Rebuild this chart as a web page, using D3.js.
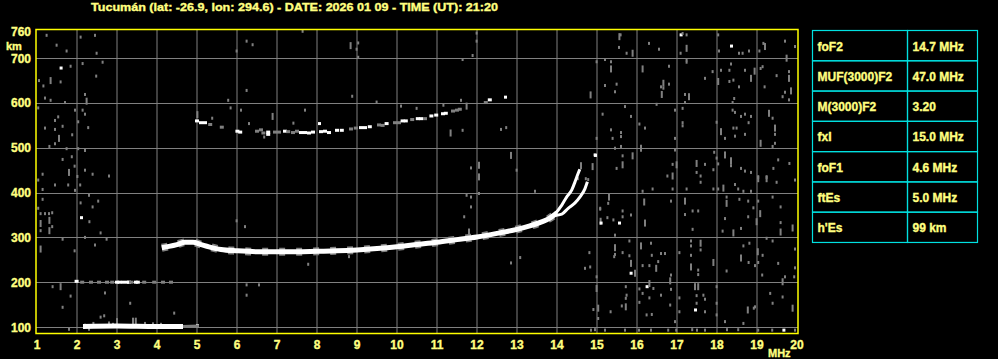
<!DOCTYPE html>
<meta charset="utf-8">
<script src="https://d3js.org/d3.v7.min.js"></script>
<style>
  body { margin: 0; background: #000; }
  text { font-family: "Liberation Sans", Arial, sans-serif; font-weight: bold; fill: #ffff80; stroke: #ffff80; stroke-width: 0.35px; }
</style>
<div id="my_dataviz"></div>
<script>
var width = 998
var height = 359

var title = "Tucumán (lat: -26.9, lon: 294.6) - DATE: 2026 01 09 - TIME (UT): 21:20"
var freqTicks = d3.range(1, 21)
var heightTicks = [100, 200, 300, 400, 500, 600, 700, 760]
var gridHeights = [100, 200, 300, 400, 500, 600, 700]
var paramNames = ["foF2", "MUF(3000)F2", "M(3000)F2", "fxI", "foF1", "ftEs", "h'Es"]
var paramValues = ["14.7 MHz", "47.0 MHz", "3.20", "15.0 MHz", "4.6 MHz", "5.0 MHz", "99 km"]

// F trace (o and x together) [MHz, km]
var traceF = [[4.12,277],[4.3,280],[4.5,284],[4.7,289],[4.9,289],[5.1,284],[5.3,279],[5.6,273],[6.0,270],
  [6.5,268],[7.0,268],[7.5,268],[8.0,269],[8.5,270],[9.0,272],[9.5,275],[10.0,279],[10.5,284],[11.0,289],
  [11.5,295],[12.0,301],[12.5,309],[13.0,318],[13.3,325],[13.6,334],[13.8,342],[14.0,355]]
var traceO = [[13.95,352],[14.12,372],[14.24,390],[14.37,406],[14.45,424],[14.53,443],[14.57,452]]
var traceX = [[13.95,349],[14.12,352],[14.28,365],[14.45,377],[14.58,391],[14.7,409],[14.76,424]]
// sporadic E
var traceEs = [[2.15,101],[3.0,102],[4.0,101],[4.65,101]]
var traceEsTail = [[4.65,101],[5.05,102]]
// second hop echoes [MHz, km, bright]
var hopEs = [[1.99,202,1],[2.13,200,0],[2.35,200,0],[2.55,200,0],[2.75,200,0],[2.88,200,0],[3.0,200,1],
  [3.06,200,1],[3.15,200,1],[3.25,200,1],[3.3,200,1],[3.35,200,0],[3.47,200,1],[3.52,200,1],[3.68,200,0],
  [3.93,200,0],[4.15,200,0],[4.35,200,0]]
var hopF = [[5.0,560,1],[5.1,556,1],[5.2,556,1],[5.33,552,0],[5.62,546,0],[6.01,537,1],[6.08,535,1],[6.5,537,0],
  [6.6,540,0],[6.66,533,0],[6.78,535,1],[6.78,530,1],[6.95,535,0],[7.05,535,0],[7.2,537,1],[7.28,536,0],
  [7.4,534,0],[7.5,537,0],[7.6,534,1],[7.7,534,1],[7.8,533,1],[7.9,535,1],[8.1,536,1],[8.2,537,1],[8.3,534,1],
  [8.5,539,1],[8.62,539,1],[8.85,542,0],[8.97,544,0],[9.1,545,1],[9.2,545,1],[9.32,547,1],[9.55,551,0],
  [9.64,550,0],[9.74,554,1],[9.95,556,0],[10.05,556,0],[10.14,560,1],[10.22,560,1],[10.38,563,0],[10.52,565,1],
  [10.6,565,1],[10.7,565,0],[10.86,571,1],[10.98,573,1],[11.15,576,1],[11.22,577,1],[11.4,582,0],[11.5,584,0],
  [11.57,586,0],[12.22,601,0],[12.32,607,1]]
// scattered noise [MHz, km, kind] 0 dot, 1 streak, 2 white
var noise = [[1.24,751,0],[1.49,729,0],[1.74,716,0],[2.09,747,0],[2.45,751,0],[2.49,711,0],[1.59,678,2],[1.84,682,0],
  [2.14,688,0],[2.64,691,0],[2.48,660,0],[1.05,650,0],[1.34,650,1],[1.16,638,0],[1.59,647,0],[1.2,611,0],[1.34,606,0],
  [1.7,601,0],[2.2,619,0],[1.95,584,0],[2.14,584,0],[2.24,604,1],[2.2,575,0],[1.03,589,0],[1.45,561,0],[1.53,569,0],
  [1.64,548,0],[1.45,541,0],[1.55,521,1],[1.2,544,0],[2.03,558,0],[2.28,545,0],[1.88,529,0],[1.31,503,0],[1.45,509,0],
  [1.74,498,0],[1.87,480,0],[2.03,498,0],[2.2,494,0],[1.64,474,0],[1.8,445,1],[1.94,459,0],[2.01,436,0],[2.2,450,0],
  [2.39,441,0],[2.8,437,0],[1.14,441,0],[1.03,428,0],[1.45,417,0],[1.78,417,0],[2.08,417,0],[1.14,407,0],[1.95,405,0],
  [1.14,385,0],[1.03,365,0],[2.09,377,0],[2.3,394,0],[2.53,381,0],[2.39,368,0],[2.31,335,0],[2.1,344,2],[1.09,353,0],
  [1.2,353,0],[1.3,353,0],[1.38,355,0],[1.31,338,1],[1.09,331,1],[1.09,315,0],[1.31,315,1],[1.38,324,0],[1.64,296,0],
  [2.2,300,0],[2.59,310,0],[2.45,283,0],[2.74,296,0],[1.09,274,1],[1.94,270,0],[1.39,190,0],[1.59,190,1],[1.84,169,0],
  [1.64,144,0],[2.7,176,0],[1.8,95,0],[2.3,95,0],
  [3.0,112,1],[3.4,113,1],[3.47,113,1],[2.68,125,0],[2.59,122,0],[2.41,108,0],[2.2,104,0],[2.8,109,0],[2.9,106,0],
  [3.7,108,0],[3.9,107,0],[4.1,106,0],[3.33,153,0],[4.43,131,0],[5.0,103,2],
  [7.64,760,0],[6.24,738,0],[6.39,730,0],[5.99,716,0],[8.84,728,1],[9.03,734,0],[8.99,720,0],[9.03,702,0],
  [11.99,756,0],[11.99,738,0],[11.89,706,0],[11.64,697,0],[6.2,324,0],[5.99,337,0],[7.78,240,0],[8.8,257,0],
  [6.24,194,0],[6.55,194,0],[6.24,171,0],[11.85,455,0],[12.05,461,1],[12.05,435,1],[12.85,483,1],[12.99,450,0],
  [13.45,403,0],[11.74,394,0],[11.85,390,0],[11.85,368,0],[11.68,346,0],[11.8,312,1],[12.05,398,0],[12.85,243,0],
  [13.08,255,0],[5.78,606,0],[6.24,628,0],[5.38,566,0],[5.84,589,0],[6.1,584,0],[6.3,554,0],[6.89,570,1],[7.7,584,0],
  [8.88,615,0],[9.49,602,0],[10.1,593,0],[10.49,588,0],[11.16,595,0],[11.6,606,0],[11.74,593,1],[11.34,533,1],
  [11.64,539,0],[12.6,541,0],[12.73,545,0],[12.7,613,2],[6.68,524,0],[7.41,555,0],[8.05,554,2],[5.01,574,1],
  [14.6,460,1],[14.52,431,0],[14.72,431,0],[14.78,429,0],[14.95,483,2],
  [15.56,748,1],[15.59,752,0],[15.89,711,1],[15.74,711,0],[15.55,724,0],[16.3,733,0],[16.55,720,0],[17.09,752,2],
  [17.14,755,0],[17.24,752,0],[17.24,722,1],[17.09,711,0],[18.03,752,0],[18.35,727,2],[18.05,716,0],[18.55,711,0],
  [18.64,711,0],[18.8,716,0],[19.16,733,0],[19.2,726,1],[19.06,716,0],[19.7,738,0],[19.95,726,0],[19.74,700,1],
  [15.2,697,0],[15.35,692,0],[15.35,676,1],[14.99,692,0],[16.14,676,1],[16.8,682,0],[17.24,696,0],[17.24,691,0],
  [17.7,655,0],[17.89,670,0],[18.03,648,1],[18.1,673,0],[18.31,673,0],[18.35,687,0],[18.41,651,0],[18.31,648,0],
  [18.7,673,0],[18.85,655,1],[18.94,671,1],[19.09,677,0],[19.14,681,0],[19.49,661,0],[19.8,670,0],[19.8,655,1],
  [15.2,639,0],[15.49,642,0],[15.45,625,0],[14.84,618,1],[16.66,644,1],[16.6,636,0],[16.66,633,0],[16.8,642,0],
  [16.62,619,1],[16.49,597,0],[17.2,619,0],[17.3,614,1],[17.2,601,0],[18.55,636,0],[19.19,636,0],[19.7,624,0],
  [19.85,627,1],[19.64,614,0],[19.8,607,0],[18.43,610,0],[18.39,601,0],[15.7,592,0],[15.85,570,0],[15.14,575,0],
  [16.06,553,0],[16.2,544,0],[16.95,584,0],[17.14,588,0],[17.14,556,0],[17.14,549,0],[16.95,521,0],[17.99,557,0],
  [18.1,536,1],[18.2,521,0],[18.39,584,0],[18.45,579,0],[18.6,570,0],[18.7,575,0],[18.85,570,0],[18.79,556,0],
  [18.41,544,0],[18.49,544,0],[18.45,526,0],[18.7,530,0],[19.3,577,1],[19.39,566,0],[19.45,544,1],[19.45,530,0],
  [19.09,510,1],[19.39,503,0],[19.45,510,0],[14.99,521,0],[15.35,540,0],[15.39,521,0],[15.6,534,0],[15.6,525,0],
  [15.6,503,0],[15.45,499,0],[16.1,499,1],[15.89,482,1],[14.94,484,2],[15.64,482,0],[15.64,462,1],[15.49,454,0],
  [14.89,458,1],[16.95,495,0],[16.89,463,0],[16.99,462,1],[16.76,437,0],[16.89,437,1],[17.49,465,1],[17.7,463,0],
  [17.49,445,0],[17.59,437,0],[17.93,490,0],[17.99,477,0],[18.03,464,0],[18.2,484,1],[18.35,471,1],[18.35,460,0],
  [18.6,454,0],[18.7,448,0],[18.85,445,0],[17.91,451,0],[19.03,434,0],[19.24,434,0],[19.53,473,0],[19.41,454,0],
  [19.81,465,0],
  [17.59,423,0],[18.45,418,0],[18.53,408,0],[18.16,410,1],[18.03,408,0],[19.03,431,1],[19.24,431,1],[19.49,423,0],
  [19.95,428,0],[16.14,403,0],[16.39,408,0],[16.89,408,0],[17.24,408,0],[17.91,408,0],[18.66,403,0],[18.85,403,0],
  [15.3,390,1],[15.08,365,0],[15.09,336,1],[15.09,332,2],[15.55,332,2],[15.64,359,0],[15.26,344,0],[15.41,339,0],
  [15.64,346,0],[15.85,350,0],[15.45,305,0],[16.18,379,1],[16.2,332,1],[16.85,381,0],[17.2,381,1],[17.2,351,0],
  [17.39,359,0],[17.53,359,0],[17.39,318,0],[18.24,390,0],[18.24,376,1],[18.56,385,0],[18.78,381,0],[18.91,366,0],
  [18.78,346,0],[19.08,353,1],[19.03,381,0],[19.39,390,0],[19.59,368,0],[19.59,333,0],[19.59,312,1],[19.89,321,1],
  [18.99,335,1],[18.2,342,0],[18.41,310,1],[18.6,320,0],[18.14,314,0],[15.28,376,0],[15.08,363,0],[14.83,234,0],
  [14.7,231,0],[14.81,266,0],[15.43,257,0],
  [15.81,292,0],[15.45,277,1],[15.45,262,0],[15.64,266,0],[15.81,259,0],[15.85,242,1],[15.95,220,1],[15.84,220,2],
  [16.1,281,1],[16.35,287,0],[16.14,237,0],[16.31,237,0],[16.48,231,1],[16.53,246,0],[16.37,260,0],[16.6,264,0],
  [16.7,264,0],[16.85,216,0],[16.83,203,1],[17.06,266,0],[17.35,292,0],[17.35,281,0],[17.35,260,0],[17.35,234,1],
  [17.59,287,1],[17.59,272,0],[17.53,227,0],[17.53,217,0],[17.91,244,1],[18.24,225,0],[18.66,281,0],[18.81,287,0],
  [18.6,254,1],[18.79,244,0],[18.95,237,0],[19.02,268,1],[19.14,260,0],[19.03,244,0],[19.13,216,0],[19.53,242,0],
  [19.7,212,0],[19.93,212,0],[19.64,201,1],[19.39,292,0],[19.24,298,0],[19.95,274,0],[19.95,232,0],
  [14.99,212,0],[14.99,186,1],[15.72,190,0],[15.74,171,0],[15.72,164,0],[15.72,145,1],[15.62,147,0],[15.34,134,0],
  [15.03,142,1],[14.91,139,0],[15.03,119,0],[16.24,190,2],[16.31,197,1],[16.06,185,0],[16.14,175,0],[16.31,165,0],
  [16.41,186,0],[16.06,155,0],[16.37,128,0],[16.24,127,0],[16.6,171,0],[16.83,149,0],[16.85,184,0],[17.06,165,0],
  [17.06,134,0],[16.95,112,0],[17.45,138,2],[17.45,190,1],[17.53,190,1],[17.49,170,0],[17.49,153,0],[17.66,171,0],
  [17.7,162,0],[17.7,134,0],[17.99,190,0],[17.99,153,0],[17.99,127,0],[18.2,112,0],[18.77,138,1],[18.92,142,0],
  [18.95,145,0],[18.66,108,0],[19.33,175,0],[19.39,153,0],[19.64,167,0],[19.89,142,1],[19.66,93,2],
  [14.85,93,0],[14.95,94,0],[15.2,93,0],[15.7,93,0],[16.05,93,0],[16.35,93,0],[16.78,93,0],[16.98,93,0],
  [17.38,94,0],[17.5,93,0],[17.7,93,0],[18.25,94,0],[18.53,94,0],[19.03,93,0],[19.38,93,0],[19.95,93,0]]

var svg = d3.select("#my_dataviz")
  .append("svg")
    .attr("width", width)
    .attr("height", height)
    .style("background", "#000")

var plot = {left: 36, right: 798, top: 29.5, bottom: 333.5}

var x = d3.scaleLinear().domain([1, 20]).range([37, 797])
var y = d3.scaleLinear().domain([85.5, 764]).range([plot.bottom, plot.top])

// title
svg.append("text")
  .attr("x", 91).attr("y", 10.5)
  .attr("textLength", 407).attr("lengthAdjust", "spacingAndGlyphs")
  .style("font-size", "11px")
  .text(title)

// grid
svg.append("g").selectAll("line")
  .data(freqTicks.slice(1, -1))
  .enter().append("line")
    .attr("x1", function(d){ return x(d) }).attr("x2", function(d){ return x(d) })
    .attr("y1", plot.top).attr("y2", plot.bottom)
    .style("stroke", "#808080").style("stroke-width", 1)
svg.append("g").selectAll("line")
  .data(gridHeights)
  .enter().append("line")
    .attr("x1", plot.left).attr("x2", plot.right)
    .attr("y1", function(d){ return Math.round(y(d)) + 0.5 }).attr("y2", function(d){ return Math.round(y(d)) + 0.5 })
    .style("stroke", "#808080").style("stroke-width", 1)

// noise
svg.append("g").selectAll("rect")
  .data(noise)
  .enter().append("rect")
    .attr("x", function(d){ return x(d[0]) - 1 })
    .attr("y", function(d){ return y(d[1]) - (d[2] == 1 ? 3.5 : 1.5) })
    .attr("width", function(d){ return d[2] == 2 ? 3 : 2 })
    .attr("height", function(d){ return d[2] == 1 ? 7 : 3 })
    .style("fill", function(d){ return d[2] == 2 ? "#fff" : "#808080" })

// second hop echoes
svg.append("g").selectAll("rect")
  .data(hopEs.concat(hopF))
  .enter().append("rect")
    .attr("x", function(d){ return x(d[0]) - 2 })
    .attr("y", function(d){ return y(d[1]) - 1.5 })
    .attr("width", 4).attr("height", 3)
    .style("fill", function(d){ return d[2] ? "#fff" : "#808080" })

var line = d3.line()
  .x(function(d){ return x(d[0]) })
  .y(function(d){ return y(d[1]) })
  .curve(d3.curveMonotoneX)

// main traces
svg.append("path").attr("d", line(traceF))
  .style("fill", "none").style("stroke", "#808080").style("stroke-width", 8)
  .style("stroke-dasharray", "6 11")
svg.append("path").attr("d", line(traceEsTail))
  .style("fill", "none").style("stroke", "#808080").style("stroke-width", 3)
svg.append("path").attr("d", line(traceEs))
  .style("fill", "none").style("stroke", "#fff").style("stroke-width", 5)
svg.append("path").attr("d", line(traceF))
  .style("fill", "none").style("stroke", "#fff").style("stroke-width", 5)
svg.selectAll("myBranch")
  .data([traceO, traceX])
  .enter().append("path")
    .attr("d", function(d){ return line(d) })
    .style("fill", "none").style("stroke", "#fff").style("stroke-width", 3)

// frame
svg.append("rect")
  .attr("x", plot.left).attr("y", plot.top)
  .attr("width", plot.right - plot.left).attr("height", plot.bottom - plot.top)
  .style("fill", "none").style("stroke", "#ffff00").style("stroke-width", 1.5)

// axis labels
svg.append("g").selectAll("text")
  .data(heightTicks)
  .enter().append("text")
    .attr("x", 31).attr("y", function(d){ return y(d) + 4.5 })
    .attr("text-anchor", "end")
    .style("font-size", "12px")
    .text(function(d){ return d })
svg.append("text").attr("x", 6).attr("y", 49.5).style("font-size", "11px").text("km")

svg.append("g").selectAll("text")
  .data(freqTicks)
  .enter().append("text")
    .attr("x", function(d){ return x(d) }).attr("y", 348.5)
    .attr("text-anchor", "middle")
    .style("font-size", "12px")
    .text(function(d){ return d })
svg.append("text").attr("x", 768).attr("y", 356.5).style("font-size", "11px").text("MHz")

// parameter table
var tab = {left: 812.5, mid: 907.5, right: 977.5, top: 30.5, row: 30.28}
var rows = svg.append("g").selectAll("g")
  .data(paramNames)
  .enter().append("g")
    .attr("transform", function(d, i){ return "translate(0," + (tab.top + i * tab.row) + ")" })
rows.append("rect")
  .attr("x", tab.left).attr("width", tab.mid - tab.left).attr("height", tab.row)
  .style("fill", "none").style("stroke", "#00e0e0").style("stroke-width", 1.2)
rows.append("rect")
  .attr("x", tab.mid).attr("width", tab.right - tab.mid).attr("height", tab.row)
  .style("fill", "none").style("stroke", "#00e0e0").style("stroke-width", 1.2)
rows.append("text")
  .attr("x", tab.left + 5).attr("y", 20)
  .style("font-size", "12px")
  .text(function(d){ return d })
rows.append("text")
  .attr("x", tab.mid + 5).attr("y", 20)
  .style("font-size", "12px")
  .text(function(d, i){ return paramValues[i] })
</script>
